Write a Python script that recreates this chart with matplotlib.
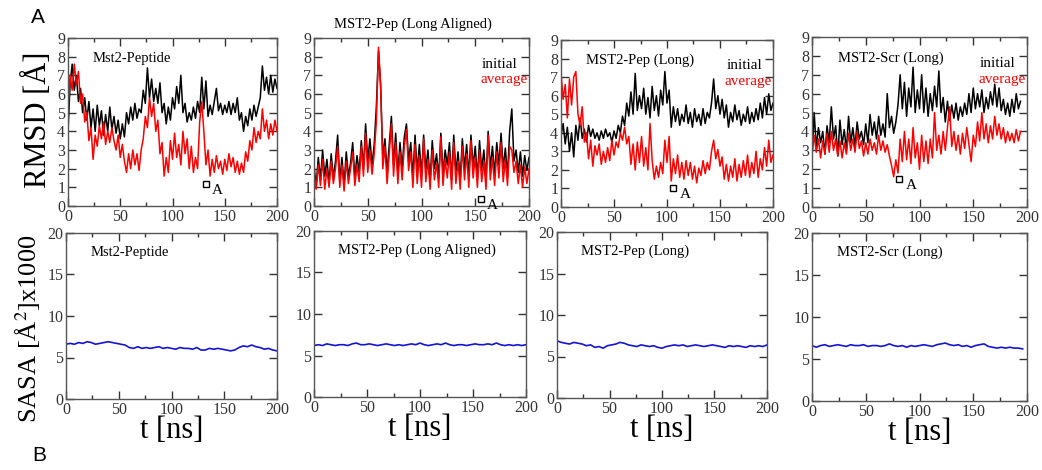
import numpy as np
import matplotlib
matplotlib.use('Agg')
import matplotlib.pyplot as plt
from matplotlib.ticker import MultipleLocator

plt.rcParams['font.family'] = ['Liberation Serif', 'DejaVu Serif']
plt.rcParams['mathtext.fontset'] = 'stix'

# time axes (ns)
t_rmsd = np.arange(0, 201, 2)
t_rmsd_scr = np.arange(0, 195, 2)
t_sasa = np.arange(0, 201, 4)
t_sasa_scr = np.arange(0, 197, 4)

titles = ['Mst2-Peptide', 'MST2-Pep (Long Aligned)', 'MST2-Pep (Long)', 'MST2-Scr (Long)']

# RMSD [A], "initial" (black) and "average" (red) reference
pep_initial = [4.0, 6.5, 7.6, 6.2, 7.0, 5.6, 6.3, 5.0, 5.8, 4.6, 5.6, 4.2, 5.2, 4.0, 5.4, 4.3, 5.1, 3.8, 4.9, 4.0,
               5.3, 4.1, 4.8, 3.9, 4.6, 3.6, 4.4, 3.7, 5.0, 4.4, 5.3, 4.6, 5.5, 4.7, 5.2, 5.0, 6.2, 5.5, 7.4, 5.8,
               6.8, 5.6, 6.3, 5.5, 6.6, 5.0, 5.5, 4.4, 5.3, 4.6, 5.8, 5.2, 6.4, 5.5, 7.0, 5.0, 5.5, 4.5, 5.0, 4.6,
               5.3, 4.7, 5.6, 5.0, 6.9, 5.2, 6.7, 4.8, 5.4, 4.9, 5.6, 6.3, 5.1, 5.5, 4.9, 5.4, 5.0, 5.6, 4.9, 5.5,
               5.0, 5.8, 4.6, 5.0, 4.0, 4.8, 4.3, 5.2, 4.6, 5.4, 4.8, 5.3, 5.8, 7.5, 6.2, 6.9, 6.0, 7.0, 6.1, 6.8,
               6.3]
pep_average = [5.0, 7.0, 6.2, 7.6, 6.5, 7.2, 5.5, 6.0, 4.5, 5.0, 3.5, 4.2, 2.5, 3.8, 3.2, 4.3, 3.6, 4.5, 3.3, 4.0,
               3.4, 4.2, 3.5, 3.0, 3.8, 2.6, 3.3, 2.4, 1.8, 2.8, 2.0, 3.0, 2.2, 2.8, 1.9, 3.0, 3.6, 4.8, 4.2, 5.8,
               4.8, 5.5, 4.0, 4.6, 2.8, 3.4, 1.6, 2.6, 1.8, 3.5, 2.5, 3.9, 2.6, 3.3, 2.2, 4.0, 2.8, 3.6, 2.0, 3.2,
               1.8, 2.6, 2.0, 4.5, 5.6, 4.0, 2.2, 3.0, 1.6, 2.5, 1.8, 2.7, 2.0, 2.4, 1.7, 2.5, 1.9, 2.8, 2.1, 2.6,
               1.8, 2.4, 1.7, 2.3, 1.8, 2.9, 2.4, 3.5, 3.0, 4.2, 3.4, 4.0, 3.6, 5.2, 4.0, 4.6, 3.6, 4.4, 3.8, 4.6,
               4.0]
aligned_initial = [2.2, 1.0, 2.6, 1.4, 3.0, 1.6, 2.5, 1.2, 2.8, 1.5, 2.4, 3.8, 1.3, 2.6, 1.1, 2.9, 1.6, 2.3, 3.4, 1.5,
                   2.7, 1.8, 3.5, 2.0, 4.4, 2.4, 3.6, 2.2, 3.3, 5.3, 8.3, 6.4, 2.6, 3.6, 1.8, 3.3, 4.8, 2.2, 3.9, 1.7,
                   3.4, 2.0, 3.7, 4.4, 2.4, 3.4, 1.5, 3.8, 1.8, 3.3, 1.6, 3.8, 1.9, 3.0, 1.3, 3.5, 2.0, 2.8, 1.5, 3.9,
                   1.7, 3.0, 2.2, 3.4, 1.4, 3.8, 1.8, 2.9, 1.4, 3.6, 2.0, 3.3, 1.6, 3.8, 2.1, 3.2, 1.5, 3.5, 1.9, 3.0,
                   1.4, 4.0, 2.0, 3.2, 1.7, 3.4, 2.2, 3.9, 2.0, 3.1, 1.6, 4.0, 5.2, 2.4, 3.0, 1.8, 2.9, 1.6, 2.7, 1.9,
                   2.6]
aligned_average = [1.8, 0.9, 2.2, 1.1, 2.5, 0.9, 2.0, 1.0, 2.4, 1.2, 2.0, 3.2, 1.0, 2.2, 0.8, 2.4, 1.2, 2.0, 2.9, 1.1,
                   2.2, 1.3, 3.2, 1.6, 3.9, 1.8, 3.0, 1.7, 2.8, 4.5, 8.5, 6.5, 2.0, 3.2, 1.2, 2.8, 4.4, 1.6, 3.4, 1.2,
                   2.9, 1.4, 3.2, 4.1, 1.9, 2.9, 1.0, 3.3, 1.2, 2.7, 1.0, 3.6, 1.3, 2.5, 0.9, 3.0, 1.4, 2.3, 1.0, 3.7,
                   1.1, 2.5, 1.5, 2.9, 0.9, 3.4, 1.2, 2.4, 0.9, 3.2, 1.4, 2.8, 1.0, 3.5, 1.5, 2.6, 1.0, 3.0, 1.3, 2.4,
                   0.9, 3.8, 1.4, 2.6, 1.1, 2.9, 1.5, 3.4, 1.3, 2.5, 1.1, 3.2, 3.0, 1.8, 2.4, 1.2, 2.2, 1.0, 2.1, 1.2,
                   2.0]
long_initial = [3.8, 4.5, 3.4, 4.3, 3.0, 4.0, 2.7, 4.4, 3.6, 4.8, 3.7, 4.2, 3.5, 4.4, 3.8, 4.2, 3.7, 4.0, 3.6, 4.1,
                3.7, 4.2, 3.8, 4.0, 3.5, 4.1, 3.7, 4.4, 4.0, 4.9, 4.4, 5.6, 4.9, 6.2, 5.0, 7.2, 5.2, 6.0, 5.3, 6.4,
                5.0, 5.9, 4.8, 6.5, 5.2, 6.0, 4.9, 6.3, 5.5, 7.3, 5.6, 6.3, 4.3, 5.4, 4.6, 5.3, 4.4, 5.0, 4.6, 5.5,
                4.5, 5.1, 4.3, 5.3, 4.6, 5.0, 4.4, 5.3, 4.5, 5.1, 4.8, 5.6, 6.9, 5.3, 6.0, 5.0, 5.8, 4.8, 5.5, 4.3,
                5.1, 4.6, 5.5, 4.7, 5.2, 4.4, 5.0, 4.6, 5.4, 4.5, 5.1, 4.6, 5.3, 4.7, 5.6, 4.8, 5.9, 5.0, 6.1, 5.2,
                5.6]
long_average = [7.2, 5.8, 6.6, 4.8, 6.9, 5.5, 7.0, 7.3, 5.0, 4.4, 5.4, 3.5, 4.0, 2.6, 3.6, 2.2, 3.3, 2.8, 3.4, 2.3,
                3.0, 2.4, 3.2, 2.5, 3.6, 2.8, 3.5, 3.2, 4.0, 3.6, 4.3, 3.4, 3.8, 2.3, 3.4, 2.0, 3.5, 2.4, 3.8, 2.2,
                3.2, 2.0, 4.5, 2.5, 1.5, 2.2, 1.6, 2.4, 1.8, 3.6, 2.4, 3.8, 1.4, 2.6, 1.8, 2.8, 1.6, 2.4, 1.5, 2.5,
                1.7, 2.4, 1.5, 2.2, 1.3, 2.1, 1.7, 2.5, 1.8, 2.4, 2.0, 3.0, 3.6, 2.6, 3.1, 2.2, 2.7, 1.5, 2.3, 1.4,
                2.2, 1.6, 2.6, 1.4, 2.3, 1.6, 2.5, 1.7, 2.8, 1.6, 2.4, 1.8, 3.0, 1.6, 2.6, 2.0, 3.2, 2.2, 3.6, 2.4,
                2.8]
scr_initial = [2.6, 5.0, 3.2, 4.2, 3.4, 4.0, 2.8, 4.3, 3.4, 5.3, 3.6, 4.3, 2.7, 4.6, 3.3, 4.1, 3.0, 4.8, 3.4, 4.2,
               3.2, 4.5, 3.6, 4.0, 3.3, 4.4, 3.4, 4.9, 3.8, 4.5, 3.6, 4.8, 3.8, 4.4, 3.7, 6.0, 4.2, 4.8, 3.9, 4.5,
               5.4, 7.0, 5.2, 6.6, 4.8, 6.3, 5.3, 7.4, 5.0, 6.2, 5.2, 7.0, 5.0, 6.3, 4.8, 6.0, 5.1, 6.4, 5.3, 7.2,
               5.0, 5.8, 4.5, 5.6, 4.6, 5.4, 4.7, 5.5, 4.6, 5.3, 4.8, 5.5, 4.9, 6.0, 5.0, 6.3, 5.2, 6.0, 5.3, 6.2,
               5.0, 5.8, 5.2, 6.1, 5.4, 6.5, 5.3, 6.3, 5.1, 5.7, 4.9, 5.5, 4.8, 5.7, 5.0, 6.0, 5.2, 5.6]
scr_average = [2.8, 3.8, 2.9, 3.6, 2.6, 3.5, 2.8, 3.9, 2.9, 4.0, 3.0, 3.6, 2.7, 3.5, 2.6, 3.4, 2.8, 3.9, 3.0, 3.6,
               2.9, 4.0, 3.1, 3.5, 2.7, 3.4, 2.8, 3.6, 3.0, 3.4, 2.8, 3.8, 3.0, 3.5, 2.9, 3.3, 2.7, 2.2, 1.6, 2.5,
               1.8, 3.6, 2.4, 4.0, 2.5, 3.6, 2.3, 4.2, 2.6, 3.4, 2.0, 3.8, 2.4, 3.5, 2.3, 3.6, 2.6, 5.0, 3.0, 3.8,
               2.8, 4.0, 3.0, 4.2, 5.3, 3.2, 4.0, 3.0, 3.8, 2.8, 3.9, 3.1, 4.2, 3.3, 2.4, 3.8, 3.2, 4.5, 3.5, 5.0,
               3.6, 4.4, 3.4, 4.3, 3.6, 4.8, 3.8, 4.4, 3.6, 4.2, 3.4, 4.0, 3.5, 3.9, 3.4, 4.1, 3.5, 4.0]

# SASA [A^2] x1000
sasa_pep = [6.6, 6.7, 6.6, 6.8, 6.7, 6.9, 6.8, 6.6, 6.7, 6.8, 6.9, 6.8, 6.7, 6.6, 6.5, 6.2, 6.1, 6.3, 6.1, 6.2,
            6.1, 6.2, 6.3, 6.1, 6.2, 6.1, 6.0, 6.2, 6.1, 6.1, 6.0, 6.2, 5.9, 5.9, 6.1, 6.0, 6.1, 6.0, 5.9, 5.8,
            5.9, 6.2, 6.4, 6.3, 6.5, 6.3, 6.2, 6.0, 6.1, 5.9, 5.8]
sasa_aligned = [6.2, 6.3, 6.2, 6.4, 6.3, 6.2, 6.3, 6.3, 6.2, 6.4, 6.5, 6.3, 6.3, 6.4, 6.3, 6.2, 6.3, 6.4, 6.3, 6.2,
                6.3, 6.2, 6.3, 6.4, 6.3, 6.5, 6.3, 6.2, 6.3, 6.4, 6.3, 6.5, 6.3, 6.2, 6.3, 6.3, 6.2, 6.3, 6.4, 6.3,
                6.3, 6.4, 6.3, 6.5, 6.3, 6.2, 6.3, 6.2, 6.3, 6.2, 6.3]
sasa_long = [6.9, 6.7, 6.6, 6.5, 6.7, 6.6, 6.5, 6.3, 6.4, 6.1, 6.2, 6.0, 6.3, 6.4, 6.5, 6.7, 6.6, 6.4, 6.3, 6.2,
             6.4, 6.3, 6.2, 6.3, 6.1, 6.0, 6.2, 6.3, 6.4, 6.3, 6.4, 6.2, 6.3, 6.4, 6.3, 6.2, 6.3, 6.4, 6.3, 6.2,
             6.1, 6.3, 6.2, 6.3, 6.2, 6.1, 6.3, 6.2, 6.3, 6.2, 6.4]
sasa_scr = [6.6, 6.4, 6.6, 6.7, 6.5, 6.6, 6.7, 6.6, 6.5, 6.7, 6.6, 6.6, 6.7, 6.5, 6.6, 6.6, 6.5, 6.6, 6.8, 6.6,
            6.5, 6.6, 6.4, 6.6, 6.5, 6.6, 6.7, 6.6, 6.5, 6.7, 6.8, 6.9, 6.7, 6.6, 6.7, 6.5, 6.6, 6.4, 6.6, 6.7,
            6.8, 6.5, 6.4, 6.3, 6.4, 6.3, 6.4, 6.3, 6.3, 6.2]

# structure "A" marked with a square: (t, rmsd)
marks_t = [132, 155, 106, 81]
marks_y = [1.2, 0.4, 1.0, 1.5]

rmsd_sets = [(t_rmsd, pep_initial, pep_average), (t_rmsd, aligned_initial, aligned_average),
             (t_rmsd, long_initial, long_average), (t_rmsd_scr, scr_initial, scr_average)]
sasa_sets = [(t_sasa, sasa_pep), (t_sasa, sasa_aligned), (t_sasa, sasa_long), (t_sasa_scr, sasa_scr)]

W, H = 1042, 470
fig = plt.figure(figsize=(W / 100, H / 100), dpi=100)

def box(x0, y0, x1, y1):
    return [x0 / W, 1 - y1 / H, (x1 - x0) / W, (y1 - y0) / H]

top_boxes = [box(68, 38, 277, 206), box(314, 38, 529, 206), box(561, 40, 773, 207), box(812, 37, 1027, 207)]
bot_boxes = [box(66, 233, 277, 399), box(314, 231, 526, 397), box(557, 232, 767, 398), box(812, 233, 1027, 401)]


def style(ax, ymax, ystep):
    ax.set_xlim(0, 200)
    ax.set_ylim(0, ymax)
    ax.set_xticks([0, 50, 100, 150, 200])
    ax.xaxis.set_minor_locator(MultipleLocator(25))
    ax.set_yticks(np.arange(0, ymax + 0.1, ystep))
    ax.tick_params(which='both', direction='in', top=True, right=True, labelsize=11.5,
                   colors='#333333', pad=2)
    ax.tick_params(which='major', length=6, width=1)
    ax.tick_params(which='minor', length=3, width=1)
    for s in ax.spines.values():
        s.set_color('#555555')
        s.set_linewidth(1)


for i, (t, ini, avg) in enumerate(rmsd_sets):
    ax = fig.add_axes(top_boxes[i])
    style(ax, 9, 1)
    ax.plot(t, ini, color='black', lw=1.1)
    ax.plot(t, avg, color='red', lw=1.1)
    ax.plot(marks_t[i], marks_y[i], 's', mfc='white', mec='black', ms=5, mew=1)
    ax.text(marks_t[i] + 6, marks_y[i] - 0.35, 'A', fontsize=11, va='center')
    if i == 1:
        ax.text(0.46, 1.06, titles[i], transform=ax.transAxes, ha='center', fontsize=10.5)
    else:
        ax.text(24, 7.9, titles[i], fontsize=10.5, va='center')
    if i > 0:
        ax.text(173, 7.6, 'initial', fontsize=11, ha='center', va='center', color='black')
        ax.text(177, 6.75, 'average', fontsize=11, ha='center', va='center', color='red')

for i, (t, s) in enumerate(sasa_sets):
    ax = fig.add_axes(bot_boxes[i])
    style(ax, 20, 5)
    ax.plot(t, s, color='#1414d2', lw=1.2)
    ax.text(23, 17.7, titles[i], fontsize=10.5, va='center')
    ax.set_xlabel('t [ns]', fontsize=22, labelpad=-1)

fig.text(0.036, 0.745, 'RMSD [Å]', rotation=90, fontsize=22, ha='center', va='center')
fig.text(0.027, 0.30, 'SASA [Å$^{2}$]x1000', rotation=90, fontsize=19, ha='center', va='center')
fig.text(0.036, 0.962, 'A', fontsize=15, family='Liberation Sans', ha='center', va='center')
fig.text(0.038, 0.03, 'B', fontsize=15, family='Liberation Sans', ha='center', va='center')

fig.savefig('out.png', dpi=100)
